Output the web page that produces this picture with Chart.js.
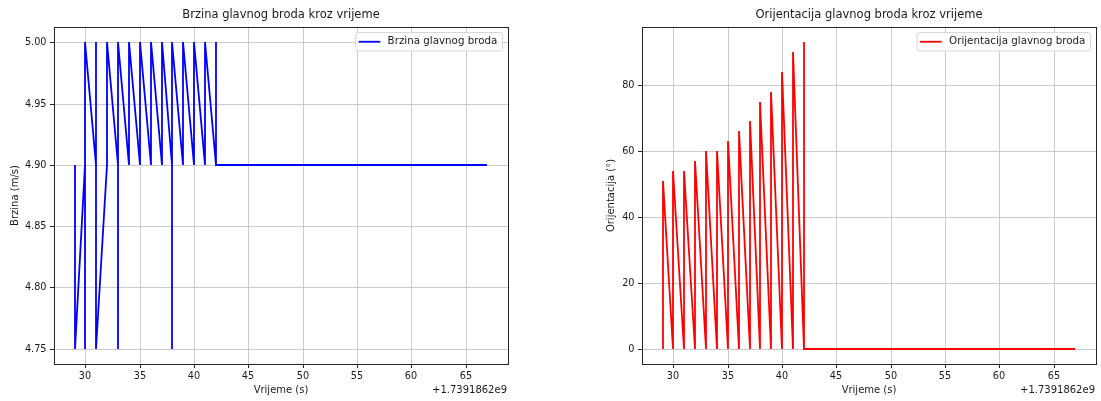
<!DOCTYPE html>
<html>
<head>
<meta charset="utf-8">
<script src="https://cdn.jsdelivr.net/npm/chart.js@4.4.1/dist/chart.umd.min.js"></script>
<style>
html, body { margin: 0; padding: 0; background: #fff; overflow: hidden; }
canvas { position: absolute; top: 0; }
#speed { left: 0; }
#orient { left: 588px; }
</style>
</head>
<body>
<canvas id="speed" width="513" height="401"></canvas>
<canvas id="orient" width="513" height="401"></canvas>
<script>
// time in seconds, relative to offset +1.7391862e9
const speedTime = [29, 29, 30, 30, 30, 31, 31, 31, 32, 32, 33, 33, 33, 34, 34, 35, 35,
    36, 36, 37, 37, 38, 38, 38, 39, 39, 40, 40, 41, 41, 42, 42, 42, 67];
const speedValue = [4.90, 4.75, 4.90, 4.75, 5.00, 4.90, 5.00, 4.75, 4.90, 5.00, 4.90, 4.75, 5.00,
    4.90, 5.00, 4.90, 5.00, 4.90, 5.00, 4.90, 5.00, 4.90, 4.75, 5.00, 4.90, 5.00, 4.90, 5.00,
    4.90, 5.00, 4.90, 5.00, 4.90, 4.90];

const orientTime = [29, 29, 30, 30, 31, 31, 32, 32, 33, 33, 34, 34, 35, 35, 36, 36, 37, 37,
    38, 38, 39, 39, 40, 40, 41, 41, 42, 42, 42, 67];
const orientValue = [0, 51, 0, 54, 0, 54, 0, 57, 0, 60, 0, 60, 0, 63, 0, 66, 0, 69,
    0, 75, 0, 78, 0, 84, 0, 90, 0, 93, 0, 0];

const xTicks = [30, 35, 40, 45, 50, 55, 60, 65];
const speedTicks = [4.75, 4.80, 4.85, 4.90, 4.95, 5.00];
const orientTicks = [0, 20, 40, 60, 80];
const offsetText = '+1.7391862e9';

const FONT = '"DejaVu Sans", "Liberation Sans", sans-serif';
const TEXT = '#1a1a1a';

/**
 * Axis limits like matplotlib autoscale (5% margin)
 */
function padRange(arr) {
    let lo = Math.min(...arr), hi = Math.max(...arr);
    let m = (hi - lo) * 0.05;
    return [lo - m, hi + m];
}

// frame, title, offset text and in-plot legend
const mplDecor = {
    id: 'mplDecor',
    afterDraw(chart, args, opts) {
        let ctx = chart.ctx;
        let a = chart.chartArea;
        ctx.save();
        ctx.strokeStyle = '#262626';
        ctx.lineWidth = 1;
        ctx.strokeRect(Math.round(a.left) + 0.5, Math.round(a.top) + 0.5,
            Math.round(a.right - a.left), Math.round(a.bottom - a.top));

        ctx.fillStyle = TEXT;
        ctx.font = '11.5px ' + FONT;
        ctx.textAlign = 'center';
        ctx.textBaseline = 'alphabetic';
        ctx.fillText(opts.title, (a.left + a.right) / 2, a.top - 8.7);

        ctx.font = '10px ' + FONT;
        ctx.textAlign = 'right';
        ctx.textBaseline = 'middle';
        ctx.fillText(offsetText, a.right - 1, 390.5);

        // legend
        let label = chart.data.datasets[0].label;
        ctx.font = '10.3px ' + FONT;
        let w = ctx.measureText(label).width;
        let boxRight = a.right - 6;
        let textLeft = boxRight - 4.6 - w;
        let handleEnd = textLeft - 7.3;
        let handleStart = handleEnd - 21.7;
        let boxLeft = handleStart - 3.5;
        let boxTop = a.top + 5;
        let boxH = 18.5;
        ctx.beginPath();
        ctx.roundRect(boxLeft + 0.5, boxTop + 0.5, boxRight - boxLeft, boxH, 2.5);
        ctx.fillStyle = 'rgba(255,255,255,0.8)';
        ctx.fill();
        ctx.strokeStyle = '#d6d6d6';
        ctx.lineWidth = 1;
        ctx.stroke();
        let cy = boxTop + boxH / 2 + 0.5;
        ctx.beginPath();
        ctx.moveTo(handleStart, cy);
        ctx.lineTo(handleEnd, cy);
        ctx.strokeStyle = chart.data.datasets[0].borderColor;
        ctx.lineWidth = 1.8;
        ctx.stroke();
        ctx.fillStyle = TEXT;
        ctx.textAlign = 'left';
        ctx.fillText(label, textLeft, cy);
        ctx.restore();
    }
};

function makeChart(canvasId, cfg) {
    let xr = padRange(cfg.times);
    let yr = padRange(cfg.values);
    let tickFont = { family: FONT, size: 9.7 };
    let labelFont = { family: FONT, size: 10 };
    let grid = { color: '#cbcbcb', lineWidth: 1, tickColor: '#262626', tickLength: 4, drawTicks: true };
    return new Chart(document.getElementById(canvasId), {
        type: 'line',
        data: {
            datasets: [{
                label: cfg.label,
                data: cfg.times.map((t, i) => ({ x: t, y: cfg.values[i] })),
                borderColor: cfg.color,
                borderWidth: 1.8,
                pointRadius: 0,
                tension: 0,
                fill: false
            }]
        },
        options: {
            responsive: false,
            animation: false,
            layout: { padding: { top: 27, right: 5, left: 0, bottom: 0 } },
            plugins: {
                legend: { display: false },
                title: { display: false },
                tooltip: { enabled: false },
                mplDecor: { title: cfg.title }
            },
            scales: {
                x: {
                    type: 'linear',
                    min: xr[0],
                    max: xr[1],
                    alignToPixels: true,
                    afterBuildTicks: s => { s.ticks = xTicks.map(v => ({ value: v })); },
                    afterFit: s => { s.height = 37; },
                    grid: grid,
                    border: { display: false },
                    ticks: { font: tickFont, color: TEXT, padding: 2.7, maxRotation: 0 },
                    title: { display: true, text: 'Vrijeme (s)', font: labelFont, color: TEXT,
                        padding: { top: 0, bottom: 4.5 } }
                },
                y: {
                    type: 'linear',
                    min: yr[0],
                    max: yr[1],
                    alignToPixels: true,
                    afterBuildTicks: s => { s.ticks = cfg.yTicks.map(v => ({ value: v })); },
                    afterFit: s => { s.width = 54; },
                    grid: grid,
                    border: { display: false },
                    ticks: { font: tickFont, color: TEXT, padding: 3.5, callback: cfg.fmt },
                    title: { display: true, text: cfg.yLabel, font: labelFont, color: TEXT,
                        padding: { top: cfg.yTitlePad, bottom: 0 } }
                }
            }
        },
        plugins: [mplDecor]
    });
}

makeChart('speed', {
    title: 'Brzina glavnog broda kroz vrijeme',
    label: 'Brzina glavnog broda',
    yLabel: 'Brzina (m/s)',
    times: speedTime,
    values: speedValue,
    yTicks: speedTicks,
    color: '#0000ff',
    yTitlePad: 9,
    fmt: v => v.toFixed(2)
});

makeChart('orient', {
    title: 'Orijentacija glavnog broda kroz vrijeme',
    label: 'Orijentacija glavnog broda',
    yLabel: 'Orijentacija (°)',
    times: orientTime,
    values: orientValue,
    yTicks: orientTicks,
    color: '#ff0000',
    yTitlePad: 17.7,
    fmt: v => String(v)
});
</script>
</body>
</html>
